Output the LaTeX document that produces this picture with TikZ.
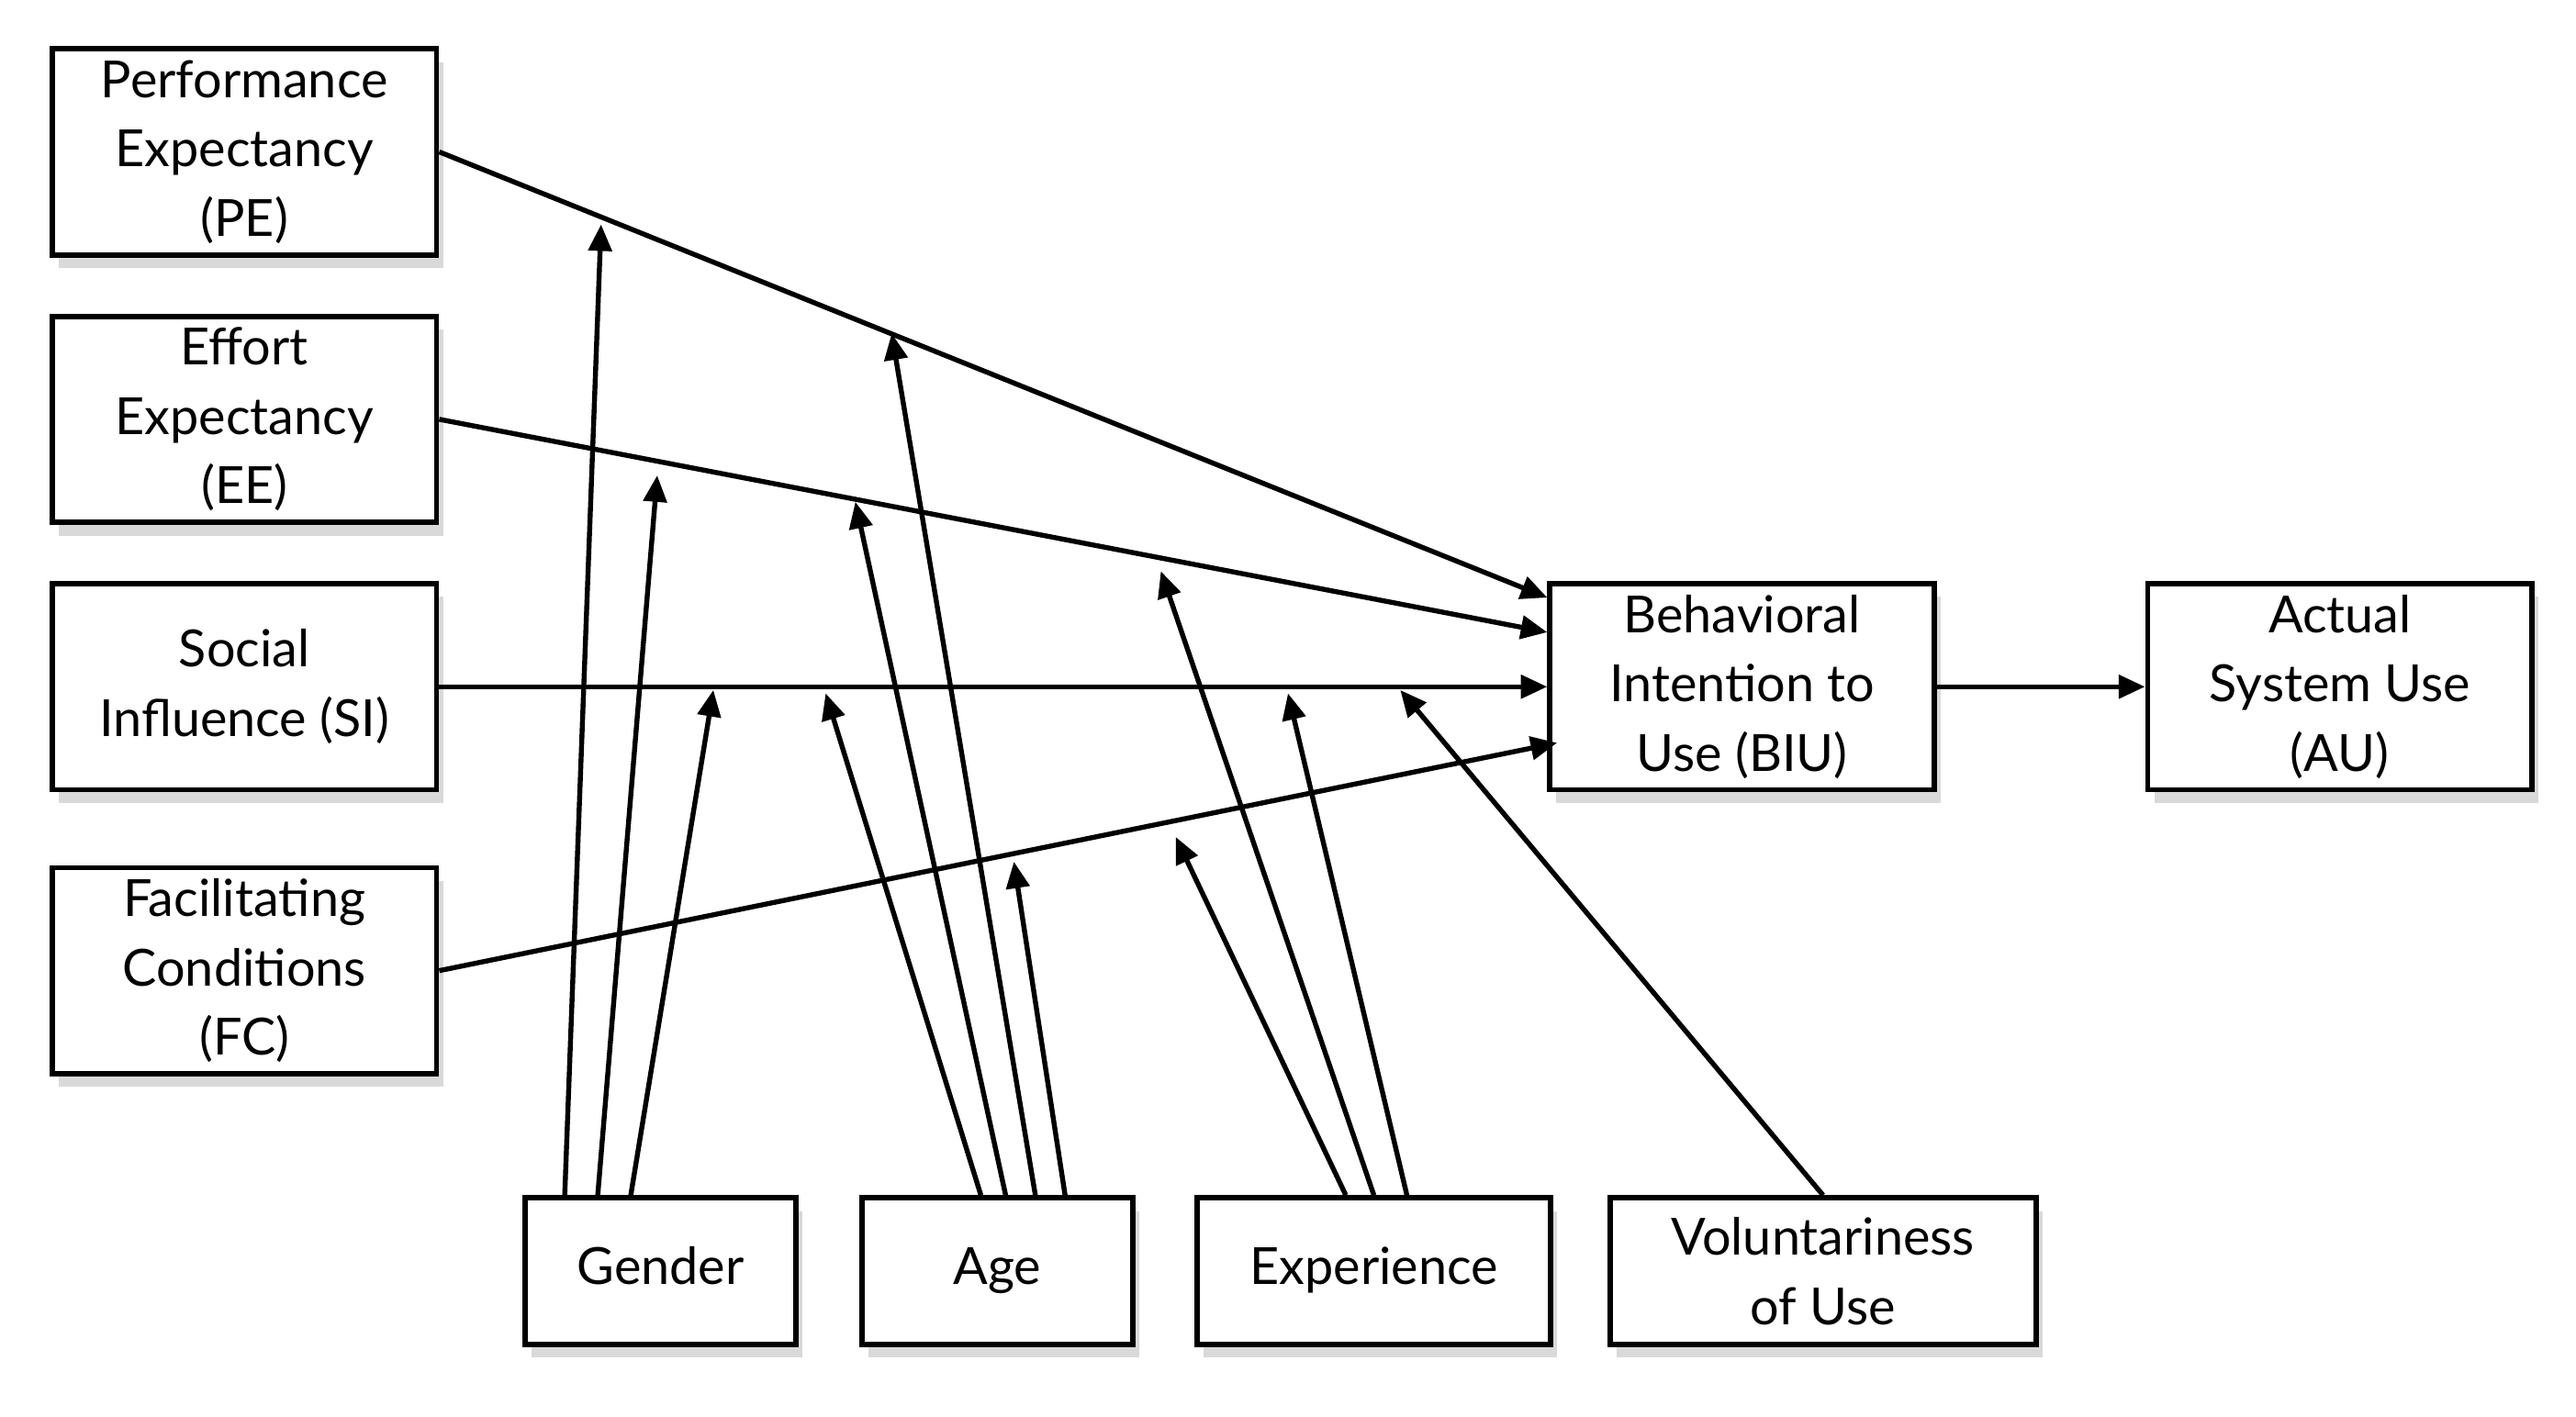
\documentclass[tikz,border=0pt]{standalone}
\usepackage{fontspec}
\setmainfont{Lato}
\usetikzlibrary{shadows,arrows.meta}
\begin{document}
\begin{tikzpicture}[x=0.5pt,y=-0.5pt,
  box/.style={draw,line width=1.6pt,fill=white,align=center,font=\fontsize{15.5}{21}\selectfont,
    drop shadow={shadow xshift=2pt,shadow yshift=-4pt,opacity=0.3,fill=gray}},
  big/.style={box,minimum width=116.4pt,minimum height=62.4pt},
  small/.style={box,minimum height=44.4pt},
  arr/.style={line width=1.5pt,-{Triangle[length=8pt,width=7pt]}}]
\useasboundingbox (0,0) rectangle (1560,858);
\node[big] (PE) at (148,92) {Performance\\Expectancy\\(PE)};
\node[big] (EE) at (148,254) {Effort\\Expectancy\\(EE)};
\node[big] (SI) at (148,416) {Social\\Influence (SI)};
\node[big] (FC) at (148,588) {Facilitating\\Conditions\\(FC)};
\node[big] (BIU) at (1055,416) {Behavioral\\Intention to\\Use (BIU)};
\node[big] (AU) at (1417,416) {Actual\\System Use\\(AU)};
\node[small,minimum width=81.9pt,text height=11pt,text depth=3pt] (G) at (400,770) {Gender};
\node[small,minimum width=81.9pt,text height=11pt,text depth=3pt] (A) at (604,770) {Age};
\node[small,minimum width=106.9pt,text height=11pt,text depth=3pt] (X) at (832,770) {Experience};
\node[small,minimum width=128.9pt] (V) at (1104,770) {Voluntariness\\of Use};
\coordinate (b1) at (937,362); \coordinate (b2) at (937,383); \coordinate (b4) at (943,450);
\draw[arr] (PE.east |- 0,92) -- (b1);
\draw[arr] (EE.east |- 0,254) -- (b2);
\draw[arr] (SI.east) -- (BIU.west);
\draw[arr] (FC.east |- 0,588) -- (b4);
\draw[arr] (BIU.east) -- (AU.west);
\foreach \s/\t [count=\i] in {342/{364,136},362/{398,288},382/{432,418}}
  {\coordinate (g\i) at (\t); \draw[arr] (G.north -| \s,0) -- (g\i);}
\foreach \s/\t [count=\i] in {594/{500,420},609/{518,304},627/{540,202},645/{614,522}}
  {\coordinate (a\i) at (\t); \draw[arr] (A.north -| \s,0) -- (a\i);}
\foreach \s/\t [count=\i] in {815/{712,507},832/{703,346},852/{780,420}}
  {\coordinate (x\i) at (\t); \draw[arr] (X.north -| \s,0) -- (x\i);}
\coordinate (v1) at (848,418);
\draw[arr] (V.north) -- (v1);
\end{tikzpicture}
\end{document}
